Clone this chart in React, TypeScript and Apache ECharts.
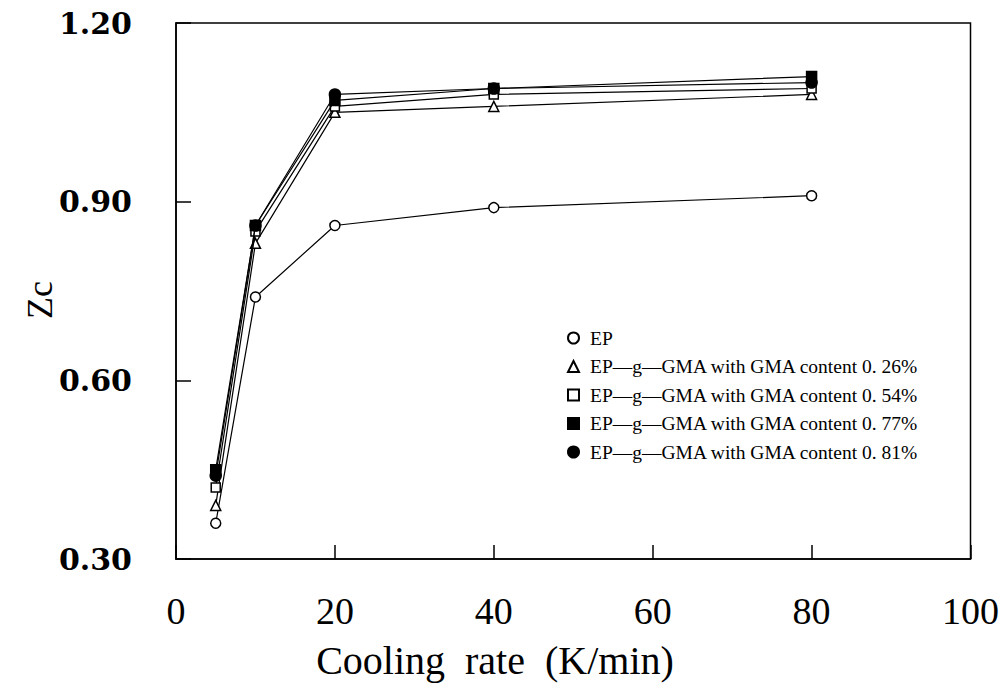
import React, { useEffect, useRef } from "react";
import * as echarts from "echarts";

const coolingRates = [5, 10, 20, 40, 80];
const seriesNames = [
  "EP",
  "EP\u2014g\u2014GMA with GMA content 0. 26%",
  "EP\u2014g\u2014GMA with GMA content 0. 54%",
  "EP\u2014g\u2014GMA with GMA content 0. 77%",
  "EP\u2014g\u2014GMA with GMA content 0. 81%",
];
const ep = [0.36, 0.74, 0.86, 0.89, 0.91];
const gma026 = [0.39, 0.83, 1.05, 1.06, 1.08];
const gma054 = [0.42, 0.85, 1.06, 1.08, 1.09];
const gma077 = [0.45, 0.86, 1.07, 1.09, 1.11];
const gma081 = [0.44, 0.86, 1.08, 1.09, 1.1];
const yTicks = [0.3, 0.6, 0.9, 1.2];
const xTicks = [0, 20, 40, 60, 80, 100];
const xTitle = "Cooling  rate  (K/min)";
const yTitle = "Zc";

const symbols = ["circle", "triangle", "rect", "rect", "circle"];
const filled = [false, false, false, true, true];
const sizes = [10, 10, 9, 10, 11];

export default function App() {
  const ref = useRef<HTMLDivElement>(null);
  useEffect(() => {
    const chart = echarts.init(ref.current!, null, { renderer: "svg" });
    const allData = [ep, gma026, gma054, gma077, gma081];
    const series = allData.map((vals, i) => ({
      name: seriesNames[i],
      type: "line",
      data: coolingRates.map((x, j) => [x, vals[j]]),
      symbol: symbols[i],
      symbolSize: sizes[i],
      showSymbol: true,
      lineStyle: { color: "#000", width: 1.2 },
      itemStyle: {
        color: filled[i] ? "#000" : "#fff",
        borderColor: "#000",
        borderWidth: 1.5,
      },
      z: 2 + i,
    }));
    chart.setOption({
      animation: false,
      backgroundColor: "#fff",
      grid: {
        left: 176,
        right: 29,
        top: 23,
        bottom: 127,
        show: true,
        borderColor: "#000",
        borderWidth: 1.5,
        backgroundColor: "transparent",
      },
      graphic: [
        {
          type: "text",
          x: 495,
          y: 660,
          style: {
            text: xTitle,
            fontFamily: "Liberation Serif",
            fontSize: 40,
            fill: "#000",
            align: "center",
            verticalAlign: "middle",
          },
        },
        {
          type: "text",
          x: 40,
          y: 300,
          rotation: Math.PI / 2,
          style: {
            text: yTitle,
            fontFamily: "Liberation Serif",
            fontSize: 36,
            fill: "#000",
            align: "center",
            verticalAlign: "middle",
          },
        },
      ],
      legend: {
        orient: "vertical",
        left: 562,
        top: 323,
        itemWidth: 11,
        itemHeight: 11,
        itemGap: 8.5,
        textStyle: {
          fontFamily: "Liberation Serif",
          fontSize: 19.5,
          color: "#000",
          padding: [0, 0, 0, 6],
        },
        data: seriesNames.map((n, i) => ({
          name: n,
          icon: symbols[i],
          itemStyle: {
            color: filled[i] ? "#000" : "#fff",
            borderColor: "#000",
            borderWidth: 2,
          },
        })),
      },
      xAxis: {
        type: "value",
        min: xTicks[0],
        max: xTicks[xTicks.length - 1],
        interval: 20,
        axisLine: { show: true, onZero: false, lineStyle: { color: "#000", width: 1.5 } },
        axisTick: { show: true, inside: true, length: 14, lineStyle: { color: "#000", width: 1.5 } },
        axisLabel: {
          margin: 33,
          fontFamily: "Liberation Serif",
          fontSize: 38,
          color: "#000",
        },
        splitLine: { show: false },
      },
      yAxis: {
        type: "value",
        min: yTicks[0],
        max: yTicks[yTicks.length - 1],
        interval: 0.3,
        axisLine: { show: true, onZero: false, lineStyle: { color: "#000", width: 1.5 } },
        axisTick: { show: true, inside: true, length: 15, lineStyle: { color: "#000", width: 1.5 } },
        axisLabel: {
          margin: 44,
          fontFamily: "DejaVu Serif",
          fontSize: 30,
          fontWeight: "bold",
          color: "#000",
          formatter: (v: number) => v.toFixed(2),
        },
        splitLine: { show: false },
      },
      series,
    });
    return () => chart.dispose();
  }, []);
  return <div ref={ref} style={{ width: 1002, height: 686, position: "absolute", left: 0, top: 0 }} />;
}
